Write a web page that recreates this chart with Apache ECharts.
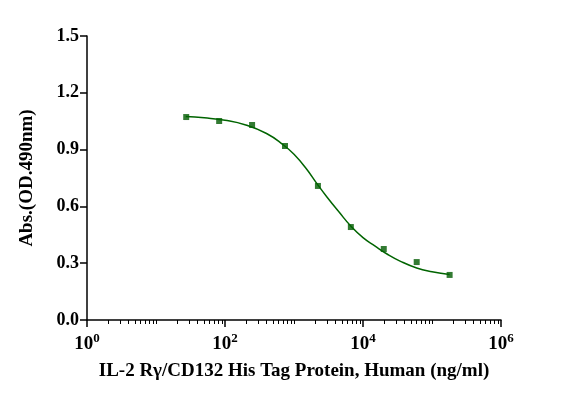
<!DOCTYPE html><html><head><meta charset="utf-8"><script src="https://cdn.jsdelivr.net/npm/echarts@6/dist/echarts.min.js"></script></head><body style="margin:0"><div id="c" style="width:561px;height:403px"></div><script>
var concX=[27.4,82.3,247,741,2222,6667,20000,60000,180000];
var absY=[1.072,1.051,1.030,0.919,0.708,0.491,0.375,0.306,0.238];
var curveX=[27,50,100,200,400,700,1000,1500,2200,3000,4500,6700,10000,15000,22000,35000,60000,100000,180000];
var curveY=[1.075,1.068,1.055,1.03,0.985,0.925,0.875,0.80,0.715,0.65,0.57,0.495,0.435,0.39,0.35,0.31,0.275,0.255,0.24];
var yTicks=[0,0.3,0.6,0.9,1.2,1.5];
var minorX=[];for(var d=0;d<6;d++){for(var k=1;k<10;k++){if(!(k==1&&d%2==0))minorX.push(k*Math.pow(10,d));}}
var F='Liberation Serif';
var ch=echarts.init(document.getElementById('c'));
ch.setOption({animation:false,
grid:{left:87,right:60,top:36,bottom:83},
xAxis:[{type:'log',logBase:10,min:1,max:1e6,position:'bottom',
 axisLine:{lineStyle:{color:'#000',width:1.5}},splitLine:{show:false},
 axisTick:{customValues:[1,100,1e4,1e6],length:7,lineStyle:{color:'#000',width:1.5}},
 axisLabel:{customValues:[1,100,1e4,1e6],margin:12,formatter:function(v){return '{b|10}{s|'+Math.round(Math.log10(v))+'}';},
  rich:{b:{fontFamily:F,fontWeight:'bold',fontSize:19,color:'#000'},s:{fontFamily:F,fontWeight:'bold',fontSize:13,color:'#000',verticalAlign:'bottom',padding:[0,0,12,0]}}},
 name:'IL-2 Rγ/CD132 His Tag Protein, Human (ng/ml)',nameLocation:'middle',nameGap:42,
 nameTextStyle:{fontFamily:F,fontWeight:'bold',fontSize:19,color:'#000'}},
 {type:'log',logBase:10,min:1,max:1e6,position:'bottom',axisLine:{show:false},splitLine:{show:false},
 axisTick:{customValues:minorX,length:4,lineStyle:{color:'#000',width:1}},axisLabel:{show:false}}],
yAxis:{type:'value',min:0,max:1.5,interval:0.3,
 axisLine:{show:true,lineStyle:{color:'#000',width:1.5}},splitLine:{show:false},
 axisTick:{show:true,length:7,lineStyle:{color:'#000',width:1.5}},
 axisLabel:{fontFamily:F,fontWeight:'bold',fontSize:18,color:'#000',formatter:function(v){return v.toFixed(1);}},
 name:'Abs.(OD.490nm)',nameLocation:'middle',nameGap:50,nameTextStyle:{fontFamily:F,fontWeight:'bold',fontSize:19,color:'#000'}},
series:[{type:'line',smooth:true,showSymbol:false,data:curveX.map(function(x,i){return [x,curveY[i]];}),lineStyle:{color:'#006400',width:1.5}},
{type:'scatter',symbol:'rect',symbolSize:6,data:concX.map(function(x,i){return [x,absY[i]];}),itemStyle:{color:'#005a00'}}]
});
</script></body></html>
